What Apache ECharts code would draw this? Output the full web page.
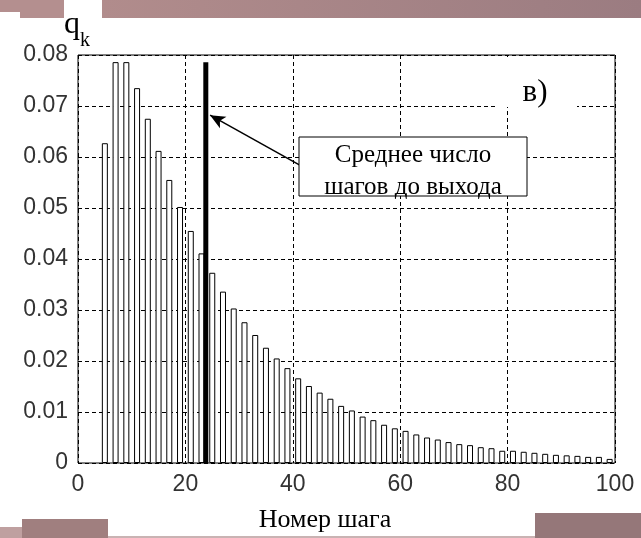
<!DOCTYPE html>
<html>
<head>
<meta charset="utf-8">
<script src="https://cdn.jsdelivr.net/npm/echarts@6/dist/echarts.min.js"></script>
<style>
    html, body { margin: 0; padding: 0; background: #fff; }
    #chart { width: 641px; height: 538px; }
</style>
</head>
<body>
<div id="chart"></div>
<script>
// номер шага (центры столбцов гистограммы)
const steps = [5, 7, 9, 11, 13, 15, 17, 19, 21, 23, 25, 27, 29, 31, 33, 35, 37, 39, 41, 43,
    45, 47, 49, 51, 53, 55, 57, 59, 61, 63, 65, 67, 69, 71, 73, 75, 77, 79, 81, 83,
    85, 87, 89, 91, 93, 95, 97, 99];
// вероятности q_k
const probs = [0.0627, 0.0786, 0.0786, 0.0735, 0.0675, 0.0612, 0.0555, 0.0502, 0.0455, 0.0411,
    0.0373, 0.0336, 0.0303, 0.0276, 0.0251, 0.0226, 0.0205, 0.0186, 0.0166, 0.0151,
    0.0138, 0.0126, 0.0112, 0.0103, 0.0091, 0.0084, 0.0075, 0.0068, 0.0063, 0.0056,
    0.0050, 0.0046, 0.0041, 0.0037, 0.0035, 0.0031, 0.0029, 0.0024, 0.0024, 0.0022,
    0.0020, 0.0018, 0.0016, 0.0015, 0.0014, 0.0012, 0.0012, 0.0008];
// среднее число шагов до выхода
const meanStep = 23.8;
const meanTop = 0.0786;
// стрелка от подписи к линии среднего
const arrowFrom = [41.3, 0.0584];
const arrowTo = [24.6, 0.0682];
// деления осей
const xTicks = [0, 20, 40, 60, 80, 100];
const yTicks = [0, 0.01, 0.02, 0.03, 0.04, 0.05, 0.06, 0.07, 0.08];

const chart = echarts.init(document.getElementById('chart'), null, { renderer: 'canvas' });

const serif = '"Liberation Serif", "Times New Roman", serif';
const sans = '"Liberation Sans", Arial, sans-serif';
const gridDash = { color: '#000', width: 1, type: [4, 3] };

const option = {
    backgroundColor: '#fff',
    animation: false,
    grid: {
        left: 78, right: 26, top: 55, bottom: 75,
        show: true, borderColor: '#000', borderWidth: 1,
        backgroundColor: 'transparent',
        outerBoundsMode: 'none'
    },
    xAxis: {
        type: 'value',
        min: xTicks[0],
        max: xTicks[xTicks.length - 1],
        interval: xTicks[1] - xTicks[0],
        axisLine: { show: false },
        axisTick: { show: false },
        axisLabel: { color: '#333', fontFamily: sans, fontSize: 23, margin: 10 },
        splitLine: { show: true, lineStyle: gridDash }
    },
    yAxis: {
        type: 'value',
        min: yTicks[0],
        max: yTicks[yTicks.length - 1],
        interval: yTicks[1] - yTicks[0],
        axisLine: { show: false },
        axisTick: { show: false },
        axisLabel: {
            color: '#333', fontFamily: sans, fontSize: 23, margin: 10,
            formatter: v => (v === 0 ? '0' : v.toFixed(2))
        },
        splitLine: { show: true, lineStyle: gridDash }
    },
    series: [
        {
            type: 'bar',
            data: steps.map((s, i) => [s, probs[i]]),
            barWidth: 6,
            itemStyle: { color: '#fff', borderColor: '#000', borderWidth: 1 },
            silent: true,
            z: 3
        },
        {
            type: 'line',
            data: [[meanStep, 0], [meanStep, meanTop]],
            symbol: 'none',
            lineStyle: { color: '#000', width: 5 },
            silent: true,
            z: 4,
            markLine: {
                silent: true,
                symbol: ['none', 'arrow'],
                symbolSize: [10, 15],
                label: { show: false },
                lineStyle: { color: '#000', width: 1.5, type: 'solid' },
                data: [[{ coord: arrowFrom }, { coord: arrowTo }]]
            }
        }
    ],
    graphic: [
        // декоративные полосы сверху
        { type: 'rect', shape: { x: 0, y: 0, width: 64, height: 12 }, style: { fill: '#b48f8f' }, z: 20 },
        { type: 'rect', shape: { x: 20, y: 12, width: 44, height: 6 }, style: { fill: '#b48f8f' }, z: 20 },
        {
            type: 'rect', shape: { x: 102, y: 0, width: 539, height: 18 }, z: 20,
            style: {
                fill: new echarts.graphic.LinearGradient(0, 0, 1, 0, [
                    { offset: 0, color: '#b18c8c' }, { offset: 1, color: '#9b7c81' }
                ])
            }
        },
        // декоративные полосы снизу
        { type: 'rect', shape: { x: 0, y: 527, width: 22, height: 11 }, style: { fill: '#bfa0a0' }, z: 20 },
        { type: 'rect', shape: { x: 22, y: 519, width: 86, height: 19 }, style: { fill: '#a07f7f' }, z: 20 },
        { type: 'rect', shape: { x: 535, y: 513, width: 106, height: 25 }, style: { fill: '#957779' }, z: 20 },
        { type: 'rect', shape: { x: 108, y: 536, width: 427, height: 2 }, style: { fill: '#c9b3b3' }, z: 20 },
        // подпись оси Y
        { type: 'text', z: 20, style: { text: 'q', x: 64, y: 25, font: '32px ' + serif, fill: '#000', verticalAlign: 'middle' } },
        { type: 'text', z: 20, style: { text: 'k', x: 80, y: 41, font: '20px ' + serif, fill: '#000', verticalAlign: 'middle' } },
        // подпись оси X
        { type: 'text', z: 20, style: { text: 'Номер шага', x: 325, y: 520, font: '26px ' + serif, fill: '#000', align: 'center', verticalAlign: 'middle' } },
        // метка панели "в)"
        { type: 'rect', z: 10, shape: { x: 497, y: 57, width: 80, height: 50 }, style: { fill: '#fff' } },
        { type: 'text', z: 11, style: { text: 'в)', x: 535, y: 93, font: '31px ' + serif, fill: '#000', align: 'center', verticalAlign: 'middle' } },
        // рамка с пояснением
        { type: 'rect', z: 10, shape: { x: 299, y: 137, width: 228, height: 59 }, style: { fill: '#fff', stroke: '#000', lineWidth: 1 } },
        { type: 'text', z: 11, style: { text: 'Среднее число', x: 413, y: 155, font: '25px ' + serif, fill: '#000', align: 'center', verticalAlign: 'middle' } },
        { type: 'text', z: 11, style: { text: 'шагов до выхода', x: 413, y: 187, font: '25px ' + serif, fill: '#000', align: 'center', verticalAlign: 'middle' } }
    ]
};

chart.setOption(option);
</script>
</body>
</html>
